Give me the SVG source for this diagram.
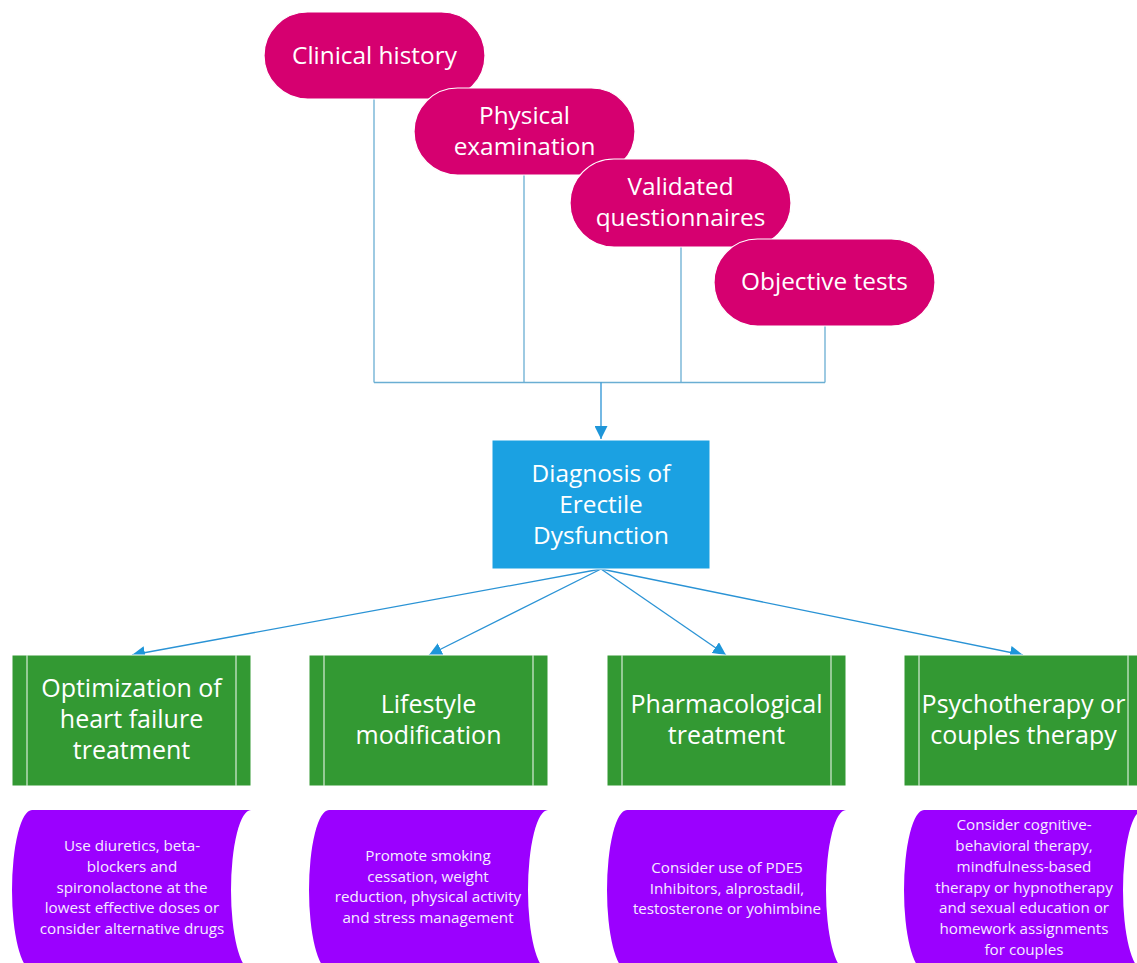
<svg xmlns="http://www.w3.org/2000/svg" width="1137" height="963" viewBox="0 0 1137 963">
<defs>
<style>
.pill{fill:#d60070;stroke:#ffffff;stroke-width:1.2}
.pt{font-family:"Open Sans","Liberation Sans",sans-serif;font-size:24.4px;fill:#ffffff;text-anchor:middle}
.blue{fill:#1ba1e2;stroke:#ffffff;stroke-width:1}
.green{fill:#339933;stroke:#ffffff;stroke-width:1}
.inner{stroke:#d8ecd8;stroke-width:1.2;fill:none}
.gt{font-family:"Open Sans","Liberation Sans",sans-serif;font-size:25px;fill:#ffffff;text-anchor:middle}
.purple{fill:#9b00ff}
.st{font-family:"Open Sans","Liberation Sans",sans-serif;font-size:15.2px;fill:#f5ecff;text-anchor:middle}
.conn{stroke:#6aaed3;stroke-width:1.3;fill:none}
.fan{stroke:#2a93d5;stroke-width:1.3;fill:none}
</style>
<marker id="ah2" viewBox="0 0 10 10" refX="10" refY="5" markerWidth="13" markerHeight="13" markerUnits="userSpaceOnUse" orient="auto"><path d="M0,0 L10,5 L0,10 z" fill="#1e96d9"/></marker>
</defs>
<g id="connectors">
<path class="conn" d="M374,99 V382.5 M524,175 V382.5 M681,247 V382.5 M825,326 V382.5 M374,382.5 H825"/>
<path class="fan" d="M601,382.5 V439" marker-end="url(#ah2)"/>
<path class="fan" d="M601,569 L132,655" marker-end="url(#ah2)"/>
<path class="fan" d="M601,569 L429,655" marker-end="url(#ah2)"/>
<path class="fan" d="M601,569 L726,655" marker-end="url(#ah2)"/>
<path class="fan" d="M601,569 L1023,655" marker-end="url(#ah2)"/>
</g>
<g id="clinical-history"><rect class="pill" x="264" y="12" width="221" height="87" rx="43.5"/><text class="pt" x="374.5" y="64">Clinical history</text></g>
<g id="physical-examination"><rect class="pill" x="414" y="88" width="221" height="87" rx="43.5"/><text class="pt" x="524.5" y="124">Physical</text><text class="pt" x="524.5" y="155">examination</text></g>
<g id="validated-questionnaires"><rect class="pill" x="570" y="159" width="221" height="88" rx="44"/><text class="pt" x="680.5" y="195">Validated</text><text class="pt" x="680.5" y="226">questionnaires</text></g>
<g id="objective-tests"><rect class="pill" x="714" y="239" width="221" height="87" rx="43.5"/><text class="pt" x="824.5" y="290">Objective tests</text></g>
<g id="diagnosis"><rect class="blue" x="492" y="440" width="218" height="129"/><text class="pt" x="601" y="482">Diagnosis of</text><text class="pt" x="601" y="513">Erectile</text><text class="pt" x="601" y="544">Dysfunction</text></g>
<g id="optimization"><rect class="green" x="12" y="655" width="239" height="131"/><path class="inner" d="M27,655 V786 M236,655 V786"/><text class="gt" x="131.5" y="697">Optimization of</text><text class="gt" x="131.5" y="728">heart failure</text><text class="gt" x="131.5" y="759">treatment</text></g>
<g id="lifestyle"><rect class="green" x="309" y="655" width="239" height="131"/><path class="inner" d="M324,655 V786 M533,655 V786"/><text class="gt" x="428.5" y="713">Lifestyle</text><text class="gt" x="428.5" y="744">modification</text></g>
<g id="pharmacological"><rect class="green" x="607" y="655" width="239" height="131"/><path class="inner" d="M622,655 V786 M831,655 V786"/><text class="gt" x="726.5" y="713">Pharmacological</text><text class="gt" x="726.5" y="744">treatment</text></g>
<g id="psychotherapy"><rect class="green" x="904" y="655" width="239" height="131"/><path class="inner" d="M919,655 V786 M1128,655 V786"/><text class="gt" x="1023.5" y="712.5">Psychotherapy or</text><text class="gt" x="1023.5" y="743.5">couples therapy</text></g>
<g id="heart-failure-detail"><path class="purple" d="M32,810 H251 A20,80 0 0 0 251,970 H32 A20,80 0 0 1 32,810 Z"/><text class="st" x="132" y="850.9">Use diuretics, beta-</text><text class="st" x="132" y="871.7">blockers and</text><text class="st" x="132" y="892.5">spironolactone at the</text><text class="st" x="132" y="913.3">lowest effective doses or</text><text class="st" x="132" y="934.1">consider alternative drugs</text></g>
<g id="lifestyle-detail"><path class="purple" d="M329,810 H548 A20,80 0 0 0 548,970 H329 A20,80 0 0 1 329,810 Z"/><text class="st" x="428" y="860.8">Promote smoking</text><text class="st" x="428" y="881.6">cessation, weight</text><text class="st" x="428" y="902.4">reduction, physical activity</text><text class="st" x="428" y="923.2">and stress management</text></g>
<g id="pharmacological-detail"><path class="purple" d="M627,810 H846 A20,80 0 0 0 846,970 H627 A20,80 0 0 1 627,810 Z"/><text class="st" x="727" y="872.7">Consider use of PDE5</text><text class="st" x="727" y="893.5">Inhibitors, alprostadil,</text><text class="st" x="727" y="914.3">testosterone or yohimbine</text></g>
<g id="psychotherapy-detail"><path class="purple" d="M924,810 H1143 A20,80 0 0 0 1143,970 H924 A20,80 0 0 1 924,810 Z"/><text class="st" x="1024" y="830.1">Consider cognitive-</text><text class="st" x="1024" y="850.9">behavioral therapy,</text><text class="st" x="1024" y="871.7">mindfulness-based</text><text class="st" x="1024" y="892.5">therapy or hypnotherapy</text><text class="st" x="1024" y="913.3">and sexual education or</text><text class="st" x="1024" y="934.1">homework assignments</text><text class="st" x="1024" y="954.9">for couples</text></g>
</svg>
